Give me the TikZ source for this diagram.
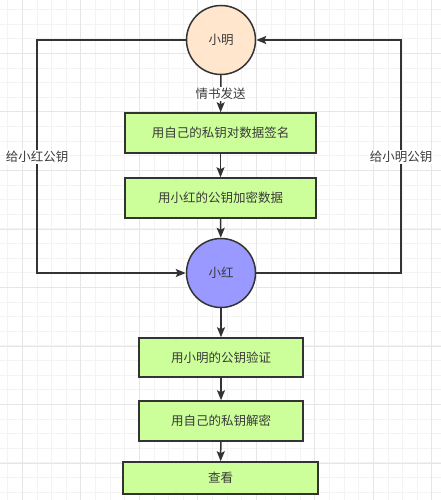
\documentclass[tikz,border=0pt]{standalone}
\usepackage{fontspec}
\newfontfamily\cjk{Noto Sans CJK SC}
\usetikzlibrary{arrows.meta}
\definecolor{strokegray}{HTML}{333333}
\definecolor{textgray}{HTML}{3A3A3A}
\definecolor{peach}{HTML}{FFE6CC}
\definecolor{violet}{HTML}{9999FF}
\definecolor{lime}{HTML}{CCFF99}
\definecolor{minorgrid}{HTML}{F3F3F3}
\definecolor{majorgrid}{HTML}{E6E6E6}
\tikzset{
  person/.style={circle, draw=strokegray, line width=1.5pt, minimum size=69pt, inner sep=0pt, font=\cjk\fontsize{12.5}{15}\selectfont, text=textgray},
  stepbox/.style={rectangle, draw=strokegray, line width=1.5pt, fill=lime, font=\cjk\fontsize{12.5}{15}\selectfont, text=textgray},
  conn/.style={draw=strokegray, line width=1.5pt, -{Stealth[length=10pt,width=8pt,inset=2pt]}},
  lbl/.style={fill=white, inner sep=1pt, font=\cjk\fontsize{12.5}{15}\selectfont, text=textgray}
}
\begin{document}
\begin{tikzpicture}[x=1pt, y=-1pt]
\useasboundingbox[fill=white] (0,0) rectangle (441,500);

% background grid
\foreach \k in {0,...,29} {
  \pgfmathsetmacro{\gx}{7.67+14.625*\k}
  \draw[minorgrid, line width=0.8pt] (\gx,0) -- (\gx,500);
}
\foreach \k in {0,...,33} {
  \pgfmathsetmacro{\gy}{9.5+14.625*\k}
  \draw[minorgrid, line width=0.8pt] (0,\gy) -- (441,\gy);
}
\foreach \k in {0,...,7} {
  \pgfmathsetmacro{\gx}{22.3+58.5*\k}
  \draw[majorgrid, line width=0.8pt] (\gx,0) -- (\gx,500);
}
\foreach \k in {0,...,7} {
  \pgfmathsetmacro{\gy}{53.4+58.5*\k}
  \draw[majorgrid, line width=0.8pt] (0,\gy) -- (441,\gy);
}

% the two people
\node[person, fill=peach] (xiaoming) at (221,40) {小明};
\node[person, fill=violet] (xiaohong) at (221,273) {小红};

% steps
\node[stepbox, minimum width=191pt, minimum height=40pt] (sign) at (220.5,133) {用自己的私钥对数据签名};
\node[stepbox, minimum width=191pt, minimum height=40pt] (encrypt) at (220.5,198) {用小红的公钥加密数据};
\node[stepbox, minimum width=164pt, minimum height=39pt] (verify) at (221,357.5) {用小明的公钥验证};
\node[stepbox, minimum width=164pt, minimum height=40pt] (decrypt) at (221,421) {用自己的私钥解密};
\node[stepbox, minimum width=195pt, minimum height=32pt] (view) at (220.5,478) {查看};

% corners of the key exchange lines
\coordinate (leftcorner) at (37,273);
\coordinate (rightcorner) at (401,273);

% connectors
\draw[conn] (xiaoming) -- node[lbl] (send) {情书发送} (sign);
\draw[conn] (sign) -- (encrypt);
\draw[conn] (encrypt) -- (xiaohong);
\draw[conn] (xiaohong) -- (verify);
\draw[conn] (verify) -- (decrypt);
\draw[conn] (decrypt) -- (view);
\draw[conn] (xiaoming.west) -| (leftcorner) -- (xiaohong.west);
\draw[conn] (xiaohong.east) -- (rightcorner) |- (xiaoming.east);

% key labels
\node[lbl] (keyhong) at (37,157) {给小红公钥};
\node[lbl] (keyming) at (401,157) {给小明公钥};
\end{tikzpicture}
\end{document}
